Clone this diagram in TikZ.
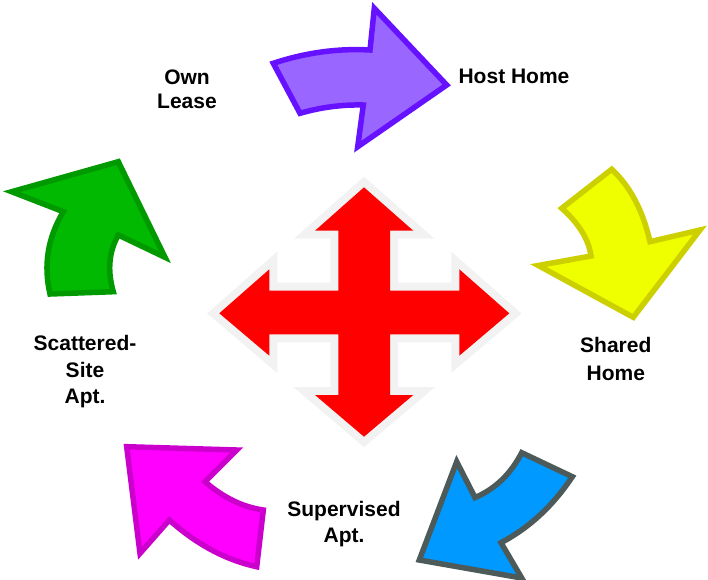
\documentclass[tikz,border=0pt]{standalone}
\usepackage{fontspec}
\setmainfont{Liberation Sans}
\definecolor{pfill}{RGB}{153,102,255}
\definecolor{pline}{RGB}{102,17,255}
\definecolor{yfill}{RGB}{240,255,0}
\definecolor{yline}{RGB}{204,208,0}
\definecolor{bfill}{RGB}{0,153,255}
\definecolor{bline}{RGB}{77,90,90}
\definecolor{mfill}{RGB}{255,0,255}
\definecolor{mline}{RGB}{204,0,204}
\definecolor{gfill}{RGB}{0,185,0}
\definecolor{gline}{RGB}{0,153,0}
\definecolor{crossedge}{RGB}{242,242,242}
\definecolor{crossred}{RGB}{255,0,0}
\begin{document}
\begin{tikzpicture}[x=1pt,y=-1pt,
  bentarrow/.style={line width=5.5pt,line join=miter},
  lbl/.style={font=\fontsize{21}{26}\selectfont\bfseries,align=center,text=black,inner sep=0pt}]
\useasboundingbox (0,0) rectangle (708,579);
% purple
\draw[bentarrow,fill=pfill,draw=pline] (273.3,63.3) .. controls (305.6,52.6) and (337.8,48.2) .. (370,50) -- (374.3,8.3) -- (446.7,85) -- (357.7,146.7) -- (363.3,105) .. controls (342.2,104.5) and (321.1,107.2) .. (300,113.3) -- cycle;
% yellow
\draw[bentarrow,fill=yfill,draw=yline] (561.7,208.3) -- (611.7,169.3) .. controls (630.0,186.1) and (642.8,210.2) .. (650,241.7) -- (700,230) -- (633.3,317.3) -- (538.3,265.5) -- (591,256) .. controls (588.7,239.5) and (579.0,223.6) .. cycle;
% blue
\draw[bentarrow,fill=bfill,draw=bline] (521.7,452.7) -- (572.3,476.7) .. controls (553.0,505.8) and (529.2,527.8) .. (501,542.7) -- (521.7,578) -- (419.3,560) -- (456.7,461.7) -- (475,497.5) .. controls (495,489.1) and (510.6,474.2) .. cycle;
% magenta
\draw[bentarrow,fill=mfill,draw=mline] (126.7,446.7) -- (236.7,450) -- (205,481.7) .. controls (223.3,497.6) and (242.7,507.0) .. (263.3,510) -- (256.7,566.7) .. controls (225.8,560.0) and (196.7,544.4) .. (169.3,520) -- (140,553.3) -- cycle;
% green
\draw[bentarrow,fill=gfill,draw=gline] (11.7,191.7) -- (118.3,161.7) -- (165,257.3) -- (118.3,235) .. controls (108.9,251.7) and (107.2,270.6) .. (113.3,291.7) -- (50,294) .. controls (43.3,265.0) and (47.7,237.6) .. (63.3,211.7) -- cycle;
% centre cross
\def\crosspath{(364,187.3) -- (413.3,230.7) -- (390,230.7) -- (390,290.7) -- (459.3,290.7) -- (459.3,269.3) -- (509.3,313.3) -- (459.3,355.7) -- (459.3,334.3) -- (390,334.3) -- (390,395) -- (413.3,395) -- (364,436.7) -- (315,395) -- (338.3,395) -- (338.3,334.3) -- (269.3,334.3) -- (269.3,355.7) -- (219.3,313.3) -- (269.3,269.3) -- (269.3,290.7) -- (338.3,290.7) -- (338.3,230.7) -- (315,230.7) -- cycle}
\draw[draw=crossedge,line width=16pt,line join=miter] \crosspath;
\fill[crossred] \crosspath;
% labels
\node[lbl] (own) at (187,89.5) {Own\\[-1.7pt]Lease};
\node[lbl] (host) at (514,76.7) {Host Home};
\node[lbl] (shared) at (615.8,359) {Shared\\[1.7pt]Home};
\node[lbl] (scat) at (85,371.7) {Scattered-\\[0.7pt]Site\\[0.7pt]Apt.};
\node[lbl] (sup) at (344,523.7) {Supervised\\Apt.};
\end{tikzpicture}
\end{document}
